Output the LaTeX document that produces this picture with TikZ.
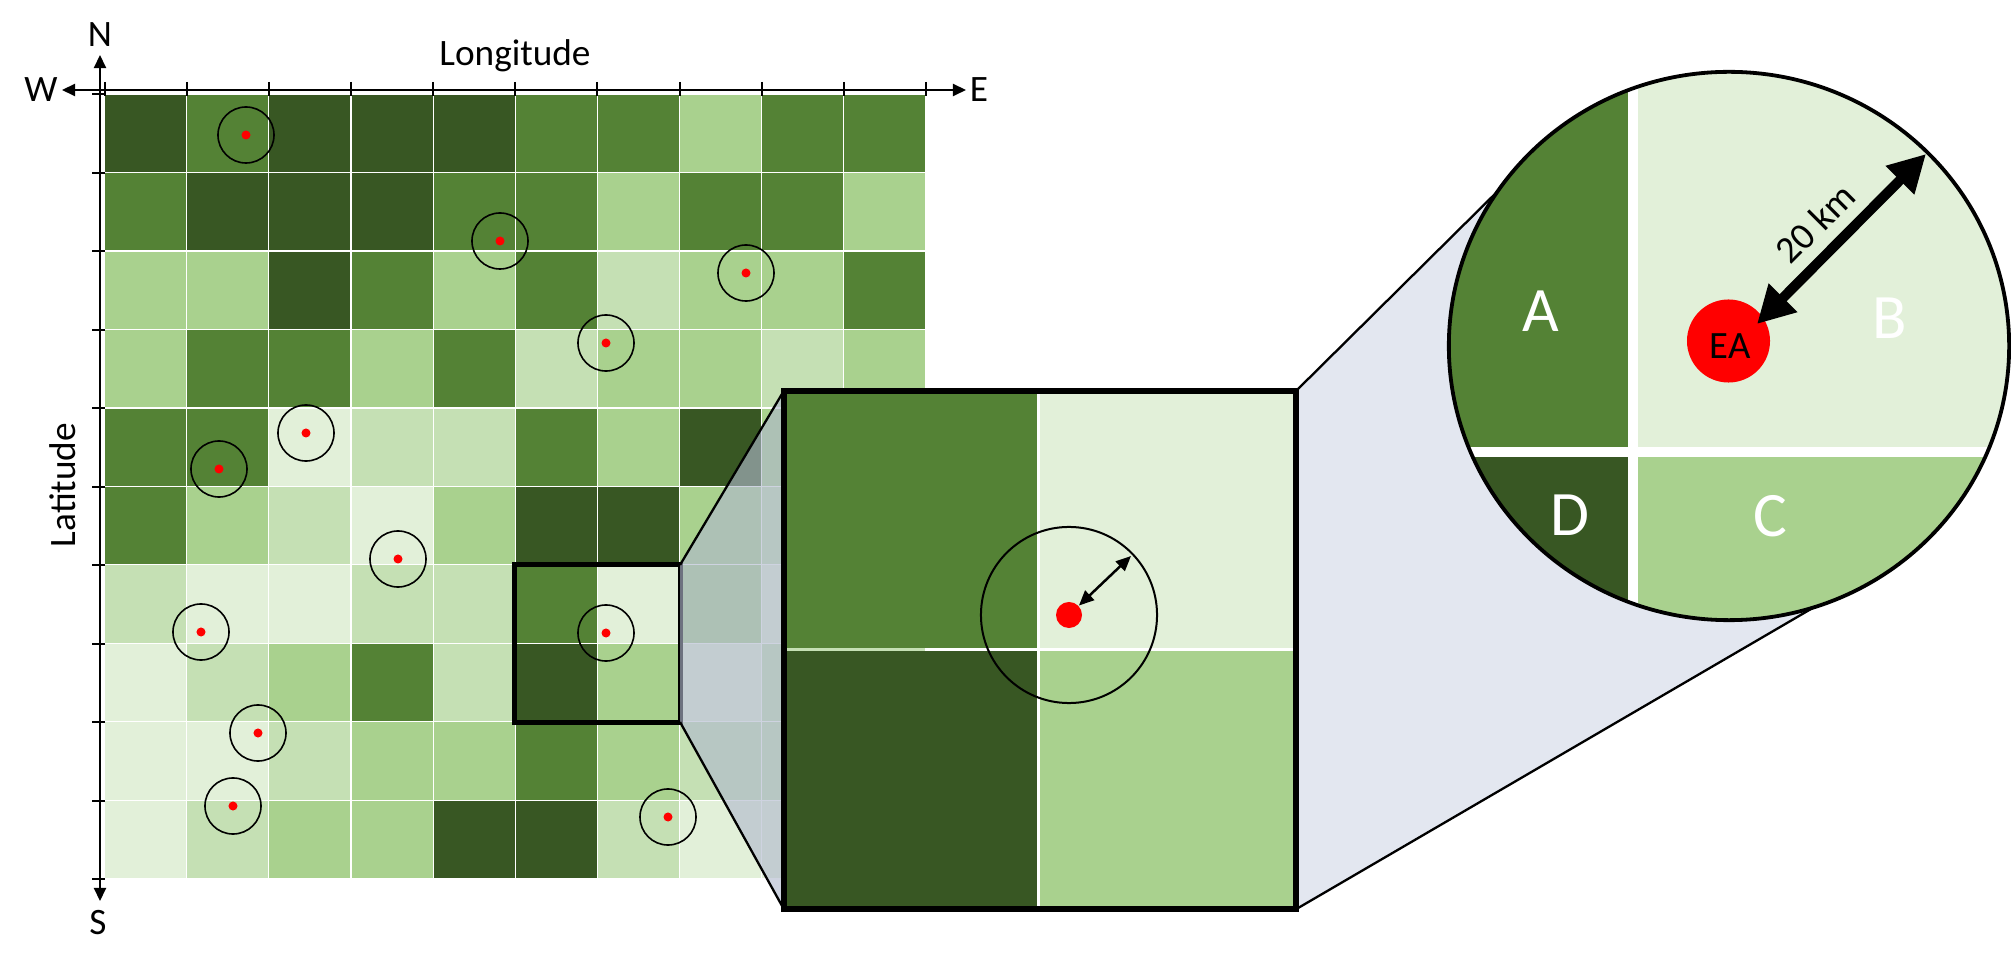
\documentclass[tikz,border=0pt]{standalone}
\usepackage{fontspec}
\setmainfont{Carlito}
\usepackage{xcolor}
\usetikzlibrary{positioning,arrows.meta,shapes.geometric}
\definecolor{gridfive}{HTML}{385723}
\definecolor{gridfour}{HTML}{548235}
\definecolor{gridthree}{HTML}{A9D18E}
\definecolor{gridtwo}{HTML}{C5E0B4}
\definecolor{gridone}{HTML}{E2F0D9}
\definecolor{wedgeleft}{RGB}{176,184,205}
\definecolor{wedgeright}{HTML}{E3E7F0}

\begin{document}
\begin{tikzpicture}[
  x=0.01cm,y=-0.01cm,
  cell/.style={minimum width=8.215mm,minimum height=7.845mm,inner sep=0pt,outer sep=0pt,draw=white,line width=0.12mm},
  lvl1/.style={cell,fill=gridone},
  lvl2/.style={cell,fill=gridtwo},
  lvl3/.style={cell,fill=gridthree},
  lvl4/.style={cell,fill=gridfour},
  lvl5/.style={cell,fill=gridfive},
  axis/.style={line width=0.2mm,{Triangle[length=1.3mm,width=1.2mm]}-{Triangle[length=1.3mm,width=1.2mm]}},
  tick/.style={line width=0.2mm},
  lbl/.style={font=\fontsize{10.6}{12}\selectfont,inner sep=0pt},
  zonelbl/.style={font=\fontsize{18}{20}\selectfont,text=white,inner sep=0pt},
  ring/.style={circle,draw=black,line width=0.16mm,minimum size=5.6mm,inner sep=0pt},
  ead/.style={circle,fill=red,minimum size=0.9mm,inner sep=0pt},
  framebox/.style={draw=black,inner sep=0pt,outer sep=0pt},
  zoomline/.style={draw=black,line width=0.23mm}
]
\useasboundingbox (0,0) rectangle (2011,967);

% grid, one list per row
\foreach \ri/\rowvals in {
  0/{5,4,5,5,5,4,4,3,4,4},
  1/{4,5,5,5,4,4,3,4,4,3},
  2/{3,3,5,4,3,4,2,3,3,4},
  3/{3,4,4,3,4,2,3,3,2,3},
  4/{4,4,1,2,2,4,3,5,3,3},
  5/{4,3,2,1,3,5,5,3,2,3},
  6/{2,1,1,2,2,4,1,3,1,3},
  7/{1,2,3,4,2,5,3,1,2,3},
  8/{1,1,2,3,3,4,3,2,2,3},
  9/{1,2,3,3,5,5,2,1,1,3}} {
  \foreach \lv [count=\ci from 0] in \rowvals {
    \node[lvl\lv] (c\ri-\ci) at ({145.6+\ci*82.15},{133.4+\ri*78.45}) {};
  }
}

% axes
\coordinate (wend) at (62,90);
\coordinate (eend) at (966,90);
\coordinate (nend) at (100,55);
\coordinate (send) at (100,901);
\draw[axis] (wend) -- (eend);
\draw[axis] (nend) -- (send);
\foreach \ti in {0,...,10} {
  \draw[tick] ({104.5+\ti*82.15},82) -- ({104.5+\ti*82.15},96);
  \draw[tick] (92,{94.5+\ti*78.45}) -- (105,{94.5+\ti*78.45});
}
\node[lbl] (nlbl) at (100,35) {N};
\node[lbl] (slbl) at (98,923) {S};
\node[lbl] (wlbl) at (41,90) {W};
\node[lbl] (elbl) at (979,90) {E};
\node[lbl] (lonlbl) at (515,56) {Longitude};
\node[lbl,rotate=90] (latlbl) at (63,485) {Latitude};

% sites
\foreach \si/\sx/\sy in {0/246/135,1/500/241,2/746/273,3/606/343,4/306/433,5/219/469,
  6/398/559,7/201/632,8/606/633,9/258/733,10/233/806,11/668/817} {
  \node[ring] (ring\si) at (\sx,\sy) {};
  \node[ead] (site\si) at (\sx,\sy) {};
}

% right wedge goes under the circle
\coordinate (wedgetop) at (1505,184);
\coordinate (wedgebot) at (1823,602);

% small frame and big frame
\node[framebox,line width=0.5mm,minimum width=16.5mm,minimum height=15.7mm] (boxsmall) at (597.5,643.5) {};
\node[inner sep=0pt,outer sep=0pt,minimum width=51.2mm,minimum height=51.8mm] (boxbig) at (1040,650) {};

\fill[wedgeleft,opacity=0.62] (boxsmall.north east) -- (boxbig.north west) -- (boxbig.south west) -- (boxsmall.south east) -- cycle;
\fill[wedgeright] (boxbig.north east) -- (wedgetop) -- (wedgebot) -- (boxbig.south east) -- cycle;
\draw[zoomline] (boxsmall.north east) -- (boxbig.north west);
\draw[zoomline] (boxsmall.south east) -- (boxbig.south west);
\draw[zoomline] (boxbig.north east) -- (wedgetop);
\draw[zoomline] (boxbig.south east) -- (wedgebot);

% inside of the big frame
\fill[gridfour] (784,391) rectangle (1038.6,650);
\fill[gridone] (1038.6,391) rectangle (1296,650);
\fill[gridfive] (784,650) rectangle (1038.6,909);
\fill[gridthree] (1038.6,650) rectangle (1296,909);
\draw[white,line width=0.3mm] (1038.6,391) -- (1038.6,909);
\draw[white,line width=0.3mm] (925,650) -- (1296,650);
\draw[gridtwo,line width=0.3mm] (784,650) -- (925,650);
\node[framebox,line width=0.6mm,minimum width=51.2mm,minimum height=51.8mm] (boxframe) at (1040,650) {};
\node[ring,line width=0.2mm,minimum size=17.6mm] (zoomring) at (1069,615) {};
\node[circle,fill=red,minimum size=2.6mm,inner sep=0pt] (zoomdot) at (1069,615) {};
\coordinate (zoomrim) at (1131,556);
\draw[line width=0.25mm,{Triangle[length=1.5mm,width=1.3mm]}-{Triangle[length=1.5mm,width=1.3mm]}] (zoomdot) -- (zoomrim);

% big circle
\begin{scope}
  \clip (1729,346) ellipse [x radius=28mm,y radius=27.4mm];
  \fill[white] (1440,60) rectangle (2011,640);
  \fill[gridfour] (1440,60) rectangle (1628,447);
  \fill[gridone] (1638,60) rectangle (2011,447);
  \fill[gridfive] (1440,457) rectangle (1628,640);
  \fill[gridthree] (1638,457) rectangle (2011,640);
\end{scope}
\node[ellipse,draw=black,line width=0.38mm,inner sep=0pt,minimum width=56mm,minimum height=54.8mm] (bigring) at (1729,346) {};
\node[circle,fill=red,minimum size=8.3mm,inner sep=0pt] (eadot) at (1728.5,341) {};
\node[font=\fontsize{11}{12}\selectfont,inner sep=0pt] (ealbl) at (1730,346) {EA};
\node[zonelbl] (alab) at (1541,311) {A};
\node[zonelbl] (blab) at (1890,318) {B};
\node[zonelbl] (clab) at (1770,516) {C};
\node[zonelbl] (dlab) at (1570,515) {D};
\coordinate (eatip) at (1757,324);
\coordinate (rimtip) at (1926,154);
\draw[line width=1mm,{Triangle[length=3.7mm,width=3.8mm]}-{Triangle[length=3.7mm,width=3.8mm]}] (eatip) -- (rimtip);
\node[font=\fontsize{10.8}{12}\selectfont,inner sep=0pt,rotate=45] (kmlbl) at (1815,223) {20 km};

\end{tikzpicture}
\end{document}
